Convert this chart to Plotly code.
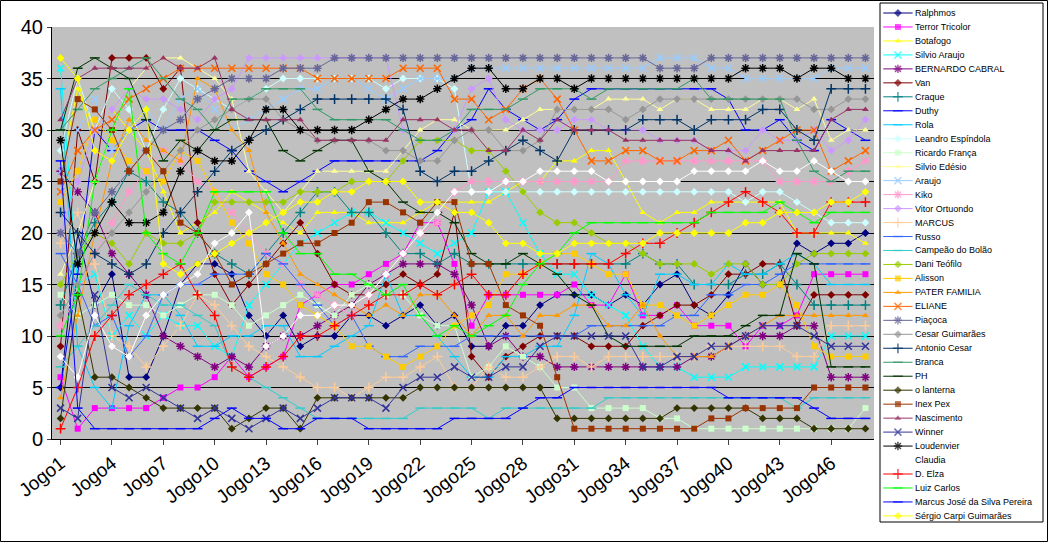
import plotly.graph_objects as go

games = ["Jogo%d" % i for i in range(1, 49)]
tick_labels = ["Jogo%d" % i for i in range(1, 49, 3)]

Ralphmos = [5,20,13,16,6,6, 10,15,17,17,16,12, 10,12,9,10,10,12, 12,11,12,13,11,12, 9,9,11,11,13,14, 14,14,13,14,13,15, 16,13,12,14,17,15, 15,19,18,19,19,20]
TerrorTricolor = [6,1,3,3,3,3, 4,5,5,6,8,6, 7,8,13,14,15,15, 16,17,18,21,21,17, 11,14,14,14,14,14, 15,13,13,16,12,12, 13,11,11,11,9,11, 11,12,16,16,16,16]
Botafogo = [26,34,30,32,30,28, 24,20,21,22,24,23, 22,21,20,22,22,22, 21,21,21,22,23,23, 23,23,24,25,25,27, 27,28,28,25,22,21, 22,22,23,23,23,23, 23,20,20,20,20,19]
SilvioAraujo = [36,15,16,10,12,10, 12,11,11,9,8,13, 15,17,19,20,21,22, 22,21,20,19,18,19, 20,24,24,21,18,16, 16,14,13,12,9,7, 7,6,6,6,7,7, 7,7,7,10,10,10]
Bernardo = [26,24,22,18,16,14, 10,9,8,7,8,7, 9,10,10,11,12,13, 15,16,17,17,17,16, 13,9,10,8,8,7, 7,7,7,7,7,7, 7,8,8,9,10,10, 10,11,11,6,6,6]
Van = [9,30,25,37,37,37, 34,36,21,16,13,15, 17,19,21,18,15,14, 14,15,16,15,16,22, 8,6,8,9,10,10, 10,9,9,9,11,12, 13,13,14,16,16,17, 17,11,14,14,14,14]
Craque = [13,18,21,23,26,25, 23,22,20,18,17,16, 18,20,22,24,24,22, 22,20,18,18,17,18, 17,17,17,17,17,17, 17,17,17,17,18,17, 17,15,15,15,16,16, 17,15,13,13,13,13]
Duthy = [5,16,30,28,30,31, 30,30,30,29,28,26, 25,24,25,26,27,27, 27,27,27,27,28,30, 31,34,32,31,30,31, 33,34,34,34,34,34, 34,34,34,33,30,30, 31,29,28,31,30,29]
Rola = [34,9,5,3,11,14, 14,12,9,9,10,10, 11,11,8,8,9,10, 11,16,12,12,10,8, 6,6,8,8,9,9, 12,18,17,14,12,16, 16,15,15,17,16,16, 17,18,17,15,15,15]
Leandro = [28,35,30,34,32,28, 32,35,34,33,32,33, 34,35,35,35,35,35, 35,34,35,35,35,34, 24,24,24,24,24,24, 24,24,24,24,24,24, 24,24,24,24,23,24, 24,23,22,21,21,21]
Ricardo = [14,12,13,14,13,13, 12,13,14,14,13,11, 12,13,14,13,12,14, 15,14,14,12,11,11, 6,7,9,8,7,5, 5,3,3,3,3,2, 2,1,1,1,1,1, 1,1,1,1,1,3]
SilvioEdesio = [16,20,25,30,34,36, 37,37,36,35,33,26, 24,22,24,26,26,26, 26,26,28,30,31,31, 30,30,30,31,32,32, 32,32,33,33,33,32, 33,33,32,32,32,33, 33,32,33,29,30,30]
Araujo = [26,30,33,28,30,32, 30,33,34,32,30,31, 32,33,34,34,35,35, 34,33,34,35,35,35, 36,36,36,36,36,36, 36,36,36,36,36,37, 37,37,36,36,35,35, 35,35,35,36,36,36]
Kiko = [11,14,18,21,24,26, 28,27,25,24,22,20, 18,17,15,14,13,12, 14,16,18,20,21,24, 25,25,25,25,25,25, 25,25,25,27,27,27, 27,27,27,27,27,27, 25,25,25,25,26,27]
Vitor = [20,25,30,32,34,33, 33,32,31,33,34,37, 37,37,37,37,37,37, 37,37,30,29,29,30, 34,35,31,30,30,30, 31,31,30,30,30,29, 29,29,28,28,28,30, 29,29,30,28,29,31]
Marcus = [19,22,17,10,9,7, 9,11,14,13,11,9, 8,7,6,5,5,4, 5,6,6,7,8,5, 5,7,6,6,7,8, 8,7,8,8,8,8, 8,8,9,9,9,9, 9,8,8,11,11,11]
Russo = [18,15,11,12,8,10, 14,15,15,16,16,16, 18,17,15,13,11,12, 9,8,8,9,9,9, 10,10,10,10,10,10, 10,11,11,11,11,11, 12,12,14,14,15,15, 16,17,17,17,17,17]
Campeao = [7,9,11,13,15,14, 13,13,12,11,7,6, 5,4,3,2,2,2, 2,2,2,3,3,3, 3,2,3,3,3,3, 3,3,4,4,4,4, 4,4,4,4,4,4, 4,3,4,4,4,4]
Dani = [15,18,20,19,17,20, 19,19,20,23,23,23, 23,23,24,24,24,25, 25,25,27,29,29,29, 28,28,26,24,22,21, 21,20,19,19,18,17, 17,17,16,17,17,15, 15,17,18,18,18,18]
Alisson = [23,26,31,29,27,26, 25,28,27,24,21,19, 16,15,13,12,11,9, 9,8,7,8,9,11, 12,13,16,16,17,18, 18,17,16,16,13,13, 12,11,12,13,14,14, 15,13,9,8,8,8]
Pater = [4,12,20,27,31,29, 28,27,35,34,30,28, 22,19,16,15,14,13, 12,13,12,14,14,12, 10,12,12,10,12,12, 13,13,11,11,13,10, 8,8,8,9,10,11, 12,12,12,12,12,12]
Eliane = [24,28,30,31,33,34, 35,36,36,36,36,36, 36,36,36,35,35,35, 35,35,36,36,36,33, 33,31,32,34,35,33, 30,27,27,28,28,27, 27,28,28,29,27,28, 29,30,30,26,27,28]
Piacoca = [20,18,22,24,26,28, 30,31,33,34,35,35, 35,36,36,36,37,37, 37,37,37,37,37,37, 37,37,37,37,37,37, 37,37,37,37,37,36, 36,36,37,37,37,37, 37,37,37,37,37,37]
CesarG = [12,15,18,20,22,24, 26,28,30,31,32,33, 33,31,30,29,29,29, 29,28,28,27,27,29, 30,30,28,28,29,32, 32,32,32,31,32,33, 33,33,33,33,33,33, 33,33,32,32,33,33]
AntonioCesar = [22,20,18,17,16,17, 20,22,24,26,28,29, 30,31,32,33,33,33, 33,33,32,26,25,26, 26,27,28,29,28,27, 30,30,30,30,31,31, 31,30,31,31,31,32, 32,30,29,34,34,34]
Branca = [30,32,34,35,36,37, 35,33,32,30,33,33, 34,34,34,32,31,31, 31,31,30,29,29,30, 32,32,32,33,34,34, 34,33,34,34,34,34, 34,35,33,33,33,33, 33,29,26,25,26,26]
PH = [30,36,37,36,35,31, 27,29,28,30,31,31, 31,28,27,28,29,29, 26,25,23,22,22,21, 18,17,17,18,17,16, 14,13,10,9,9,9, 9,10,10,10,11,12, 12,18,17,7,7,7]
Lanterna = [2,14,6,6,5,4, 3,3,3,3,1,2, 3,3,1,4,4,4, 4,4,4,5,5,5, 5,5,5,5,5,2, 2,2,2,2,2,2, 3,3,3,3,3,2, 2,2,1,1,1,1]
InexPex = [25,33,32,30,26,28, 26,21,20,18,15,16, 17,18,19,19,20,21, 23,23,22,21,23,23, 17,17,13,12,11,6, 1,1,1,1,1,1, 1,1,2,2,3,3, 3,3,5,5,5,5]
Nascimento = [31,35,36,36,36,36, 37,36,36,37,32,31, 31,31,31,29,29,29, 29,29,31,31,31,30, 30,28,28,30,29,31, 30,30,30,29,29,29, 29,29,28,28,27,28, 28,28,28,31,32,32]
Winner = [3,2,14,5,4,5, 4,3,2,3,2,1, 2,3,2,3,4,4, 4,3,5,6,6,7, 6,6,7,7,9,10, 10,10,10,10,7,7, 8,8,9,9,10,11, 11,11,10,9,9,9]
Loudenvier = [29,17,20,23,21,21, 22,26,28,27,27,29, 32,32,30,30,30,30, 31,32,33,33,34,35, 36,36,34,34,35,35, 34,35,35,35,35,35, 35,35,35,35,36,36, 36,35,36,36,35,35]
Claudia = [8,6,12,9,8,12, 14,15,16,19,20,22, 9,10,12,12,13,13, 14,16,18,20,22,24, 24,24,25,25,26,26, 26,26,25,25,25,25, 25,26,26,26,26,27, 26,26,27,26,25,25]
DElza = [1,5,10,12,14,15, 16,17,14,12,7,6, 7,8,10,10,11,12, 13,14,14,15,14,15, 16,14,14,16,17,17, 17,17,17,18,19,19, 20,21,22,23,24,23, 22,20,20,23,23,23]
LuizCarlos = [10,14,25,30,34,20, 18,17,20,24,24,24, 24,20,18,18,16,16, 15,14,15,12,10,11, 10,11,12,15,17,18, 20,21,21,21,21,21, 21,21,22,22,22,22, 23,22,21,22,22,22]
MarcusJose = [27,3,1,1,1,1, 1,1,1,2,3,2, 2,1,1,2,2,2, 1,1,1,1,1,2, 2,2,2,3,4,4, 5,5,5,5,5,5, 5,5,5,4,4,4, 4,4,3,2,2,2]
Sergio = [37,35,28,27,30,32, 17,16,17,18,19,20, 21,22,23,23,24,24, 25,25,25,23,23,22, 22,21,19,19,18,18, 19,19,19,19,19,20, 20,20,20,20,21,21, 22,22,22,23,23,24]

series = [
    ("Ralphmos", Ralphmos, "#000080", "diamond"),
    ("Terror Tricolor", TerrorTricolor, "#FF00FF", "square"),
    ("Botafogo", Botafogo, "#FFFF00", "triangle-up"),
    ("Silvio Araujo", SilvioAraujo, "#00FFFF", "x-thin-open"),
    ("BERNARDO CABRAL", Bernardo, "#800080", "asterisk-open"),
    ("Van", Van, "#800000", "diamond"),
    ("Craque", Craque, "#008080", "cross-thin-open"),
    ("Duthy", Duthy, "#0000FF", "line-ew-open"),
    ("Rola", Rola, "#00CCFF", "line-ew-open"),
    ("Leandro Espíndola", Leandro, "#CCFFFF", "diamond"),
    ("Ricardo França", Ricardo, "#CCFFCC", "square"),
    ("Silvio Edésio", SilvioEdesio, "#FFFF99", "triangle-up"),
    ("Araujo", Araujo, "#99CCFF", "x-thin-open"),
    ("Kiko", Kiko, "#FF99CC", "asterisk-open"),
    ("Vitor Ortuondo", Vitor, "#CC99FF", "diamond"),
    ("MARCUS", Marcus, "#FFCC99", "cross-thin-open"),
    ("Russo", Russo, "#3366FF", "line-ew-open"),
    ("Campeão do Bolão", Campeao, "#33CCCC", "line-ew-open"),
    ("Dani Teófilo", Dani, "#99CC00", "diamond"),
    ("Alisson", Alisson, "#FFCC00", "square"),
    ("PATER FAMILIA", Pater, "#FF9900", "triangle-up"),
    ("ELIANE", Eliane, "#FF6600", "x-thin-open"),
    ("Piaçoca", Piacoca, "#666699", "asterisk-open"),
    ("Cesar Guimarães", CesarG, "#969696", "diamond"),
    ("Antonio Cesar", AntonioCesar, "#003366", "cross-thin-open"),
    ("Branca", Branca, "#339966", "line-ew-open"),
    ("PH", PH, "#003300", "line-ew-open"),
    ("o lanterna", Lanterna, "#333300", "diamond"),
    ("Inex Pex", InexPex, "#993300", "square"),
    ("Nascimento", Nascimento, "#993366", "triangle-up"),
    ("Winner", Winner, "#333399", "x-thin-open"),
    ("Loudenvier", Loudenvier, "#000000", "asterisk-open"),
    ("Claudia", Claudia, "#FFFFFF", "diamond"),
    ("D. Elza", DElza, "#FF0000", "cross-thin-open"),
    ("Luiz Carlos", LuizCarlos, "#00FF00", "line-ew-open"),
    ("Marcus José da Silva Pereira", MarcusJose, "#0000FF", "line-ew-open"),
    ("Sérgio Carpi Guimarães", Sergio, "#FFFF00", "diamond"),
]

W, H = 1048, 542
ML, MR, MT, MB = 52, 5, 3, 20
AW, AH = W - ML - MR, H - MT - MB

fig = go.Figure()
for i, (name, vals, color, sym) in enumerate(series):
    open_sym = sym.endswith("-open")
    msize = 7 if open_sym else 6
    mline = dict(color=color, width=1.5 if open_sym else 0)
    fig.add_trace(go.Scatter(
        x=games, y=vals, name=name, mode="lines+markers", showlegend=False,
        line=dict(color=color, width=1),
        marker=dict(symbol=sym, size=msize, color=color, line=mline),
    ))
    fig.add_trace(go.Scatter(
        x=[0.02, 0.11, 0.20], y=[i, i, i], mode="lines+markers", showlegend=False,
        xaxis="x2", yaxis="y2", hoverinfo="skip",
        line=dict(color=color, width=1),
        marker=dict(symbol=sym, size=[0, msize, 0], color=color, line=mline),
    ))
    fig.add_annotation(x=0.205, y=i, xref="x2", yref="y2", text=name, showarrow=False,
                       xanchor="left", yanchor="middle",
                       font=dict(size=9, family="Arial, Liberation Sans", color="black"))

main_right = (874 - ML) / AW
main_bottom = (H - MB - 439) / AH
main_top = (H - MB - 27) / AH
leg_left = (880 - ML) / AW

top_i = -10 / 13.97
bot_i = (AH - 10) / 13.97

fig.update_layout(
    width=W, height=H,
    margin=dict(l=ML, r=MR, t=MT, b=MB, autoexpand=False),
    paper_bgcolor="white", plot_bgcolor="white",
    font=dict(family="Arial, Liberation Sans", color="black"),
    showlegend=False,
    xaxis=dict(domain=[0, main_right], type="category", tickmode="array",
               tickvals=tick_labels, ticktext=tick_labels, tickangle=-38,
               tickfont=dict(size=19), ticks="outside", ticklen=5, automargin=False,
               showline=True, linecolor="black", showgrid=False, range=[-0.5, 47.5]),
    yaxis=dict(domain=[main_bottom, main_top], range=[0, 40], dtick=5, automargin=False,
               tickfont=dict(size=20), showgrid=True, gridcolor="black", gridwidth=1,
               ticks="outside", ticklen=4, showline=True, linecolor="black", zeroline=False),
    xaxis2=dict(domain=[leg_left, 1.0], range=[0, 1], visible=False, fixedrange=True),
    yaxis2=dict(domain=[0, 1], range=[bot_i, top_i], visible=False, fixedrange=True,
                anchor="x2"),
    shapes=[
        dict(type="rect", xref="x domain", yref="y domain", x0=0, x1=1, y0=0, y1=1,
             fillcolor="#C0C0C0", line=dict(width=0), layer="below"),
        dict(type="rect", xref="x2 domain", yref="y2 domain", x0=0, x1=1, y0=0, y1=1,
             fillcolor="white", line=dict(color="black", width=1), layer="below"),
        dict(type="rect", xref="paper", yref="paper",
             x0=-(ML - 0.5) / AW, x1=1 + (MR - 0.5) / AW,
             y0=-(MB - 0.5) / AH, y1=1 + (MT - 0.5) / AH,
             line=dict(color="black", width=1), fillcolor="rgba(0,0,0,0)"),
    ],
)

fig.write_html("out.html", config={"displayModeBar": False},
               post_script="document.body.style.margin='0';document.body.style.overflow='hidden';")
